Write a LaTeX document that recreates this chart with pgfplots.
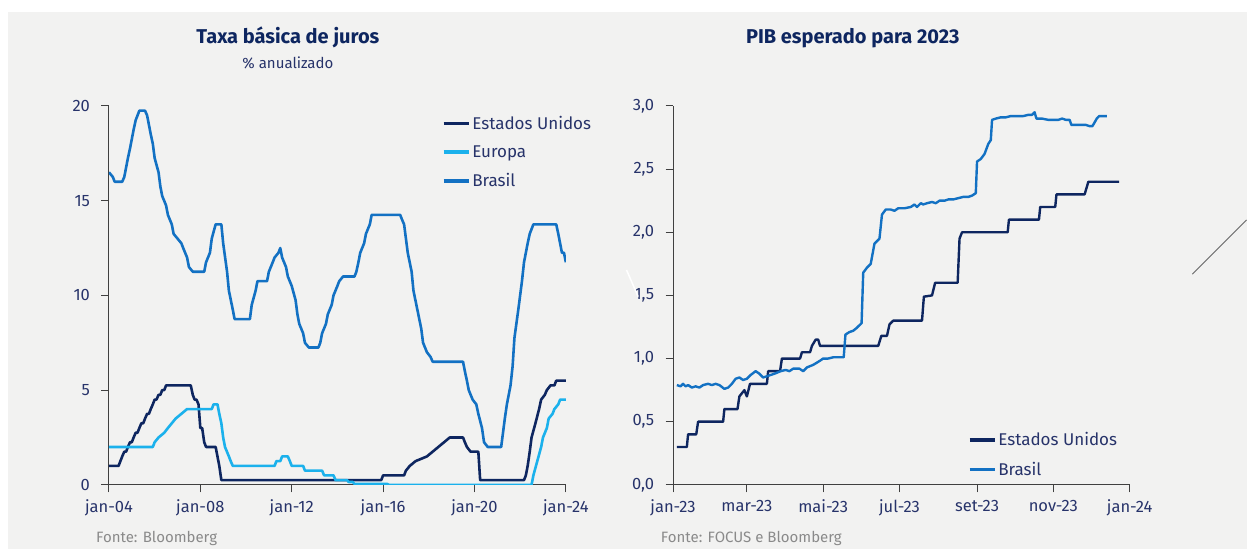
\documentclass[border=0pt]{standalone}
\usepackage{fontspec}
\setmainfont{Fira Sans}
\usepackage{pgfplots}
\pgfplotsset{compat=1.18}

\definecolor{bg}{HTML}{F2F2F1}
\definecolor{usa}{HTML}{0E2660}
\definecolor{eur}{HTML}{1BB1EC}
\definecolor{bra}{HTML}{1371C3}
\definecolor{txt}{HTML}{27336A}
\definecolor{src}{HTML}{8A8A8A}

\pgfplotsset{
  panel/.style={
    scale only axis,
    axis lines=left,
    axis line style={-, black!75, line width=1pt},
    tick align=outside,
    major tick length=7.5pt,
    tick style={black!75, line width=1pt},
    tick label style={font=\fontsize{16.5}{20}\selectfont, text=txt},
    xticklabel style={yshift=-4pt},
    yticklabel style={xshift=-8pt},
    /pgf/number format/assume math mode=true,
    legend cell align=left,
    legend image code/.code={\draw[#1, line width=3.6pt] (0pt,0pt) -- (25pt,0pt);},
    legend style={draw=none, fill=none, font=\fontsize{17}{20}\selectfont, text=txt,
      inner sep=0pt, row sep=10.8pt},
  }
}

\pgfplotstableread{
x y
2004.00 1.00
2004.42 1.00
2004.50 1.25
2004.58 1.50
2004.67 1.75
2004.75 1.75
2004.83 2.00
2004.92 2.25
2005.00 2.25
2005.08 2.50
2005.17 2.75
2005.25 2.75
2005.33 3.00
2005.42 3.25
2005.50 3.25
2005.58 3.50
2005.67 3.75
2005.75 3.75
2005.83 4.00
2005.92 4.25
2006.00 4.50
2006.08 4.50
2006.17 4.75
2006.25 4.75
2006.33 5.00
2006.42 5.00
2006.50 5.25
2007.58 5.25
2007.67 4.75
2007.75 4.50
2007.83 4.50
2007.92 4.25
2008.00 3.00
2008.08 3.00
2008.17 2.25
2008.25 2.00
2008.67 2.00
2008.75 1.50
2008.83 1.00
2008.92 0.25
2015.92 0.25
2016.00 0.50
2016.92 0.50
2017.00 0.75
2017.17 1.00
2017.42 1.25
2017.92 1.50
2018.17 1.75
2018.42 2.00
2018.67 2.25
2018.92 2.50
2019.50 2.50
2019.58 2.25
2019.67 2.00
2019.83 1.75
2020.17 1.75
2020.25 0.25
2022.17 0.25
2022.25 0.50
2022.33 1.00
2022.42 1.75
2022.50 2.50
2022.67 3.25
2022.83 4.00
2022.92 4.50
2023.08 4.75
2023.17 5.00
2023.33 5.25
2023.50 5.25
2023.58 5.50
2024.00 5.50
}\usrate

\pgfplotstableread{
x y
2004.00 2.00
2005.92 2.00
2006.00 2.25
2006.17 2.50
2006.42 2.75
2006.58 3.00
2006.75 3.25
2006.92 3.50
2007.17 3.75
2007.42 4.00
2008.50 4.00
2008.58 4.25
2008.75 4.25
2008.83 3.75
2008.92 3.25
2009.00 2.50
2009.08 2.00
2009.25 1.50
2009.33 1.25
2009.42 1.00
2011.25 1.00
2011.33 1.25
2011.50 1.25
2011.58 1.50
2011.83 1.50
2011.92 1.25
2012.00 1.00
2012.50 1.00
2012.58 0.75
2013.33 0.75
2013.42 0.50
2013.83 0.50
2013.92 0.25
2014.42 0.25
2014.50 0.15
2014.67 0.15
2014.75 0.05
2016.17 0.05
2016.25 0.00
2022.50 0.00
2022.58 0.50
2022.75 1.25
2022.92 2.00
2023.00 2.50
2023.17 3.00
2023.25 3.50
2023.42 3.75
2023.50 4.00
2023.67 4.25
2023.75 4.50
2024.00 4.50
}\eurate

\pgfplotstableread{
x y
2004.00 16.50
2004.17 16.25
2004.25 16.00
2004.58 16.00
2004.67 16.25
2004.75 16.75
2004.83 17.25
2004.92 17.75
2005.00 18.25
2005.08 18.75
2005.17 19.25
2005.25 19.50
2005.33 19.75
2005.58 19.75
2005.67 19.50
2005.75 19.00
2005.83 18.50
2005.92 18.00
2006.00 17.25
2006.17 16.50
2006.25 15.75
2006.33 15.25
2006.50 14.75
2006.58 14.25
2006.75 13.75
2006.83 13.25
2007.00 13.00
2007.17 12.75
2007.25 12.50
2007.42 12.00
2007.50 11.50
2007.67 11.25
2008.17 11.25
2008.25 11.75
2008.42 12.25
2008.50 13.00
2008.67 13.75
2008.92 13.75
2009.00 12.75
2009.17 11.25
2009.25 10.25
2009.42 9.25
2009.50 8.75
2010.17 8.75
2010.25 9.50
2010.42 10.25
2010.50 10.75
2010.92 10.75
2011.00 11.25
2011.17 11.75
2011.25 12.00
2011.42 12.25
2011.50 12.50
2011.58 12.00
2011.75 11.50
2011.83 11.00
2012.00 10.50
2012.17 9.75
2012.25 9.00
2012.33 8.50
2012.50 8.00
2012.58 7.50
2012.75 7.25
2013.17 7.25
2013.25 7.50
2013.33 8.00
2013.50 8.50
2013.58 9.00
2013.75 9.50
2013.83 10.00
2014.00 10.50
2014.08 10.75
2014.25 11.00
2014.75 11.00
2014.83 11.25
2014.92 11.75
2015.00 12.25
2015.17 12.75
2015.25 13.25
2015.42 13.75
2015.50 14.25
2016.75 14.25
2016.83 14.00
2016.92 13.75
2017.00 13.00
2017.08 12.25
2017.25 11.25
2017.33 10.25
2017.50 9.25
2017.67 8.25
2017.75 7.50
2017.92 7.00
2018.08 6.75
2018.17 6.50
2019.50 6.50
2019.58 6.00
2019.67 5.50
2019.75 5.00
2019.92 4.50
2020.08 4.25
2020.17 3.75
2020.33 3.00
2020.42 2.25
2020.58 2.00
2021.17 2.00
2021.25 2.75
2021.33 3.50
2021.42 4.25
2021.58 5.25
2021.67 6.25
2021.75 7.75
2021.92 9.25
2022.08 10.75
2022.17 11.75
2022.33 12.75
2022.42 13.25
2022.58 13.75
2023.58 13.75
2023.67 13.25
2023.75 12.75
2023.83 12.25
2023.92 12.25
2024.00 11.75
}\brrate

\pgfplotstableread{
d y
3 0.30
11 0.30
12 0.40
18.5 0.40
20 0.50
40 0.50
41 0.60
51.5 0.60
53 0.70
57 0.75
59 0.70
61.5 0.80
75 0.80
76 0.90
85.5 0.90
87 1.00
101.5 1.00
103 1.05
109.5 1.05
111 1.10
114 1.15
116 1.15
117.5 1.10
164 1.10
166.5 1.18
171 1.18
173 1.27
176 1.30
199 1.30
200.5 1.49
207 1.50
209.5 1.60
227.5 1.60
229 1.95
231 2.00
267.5 2.00
268.5 2.10
292.5 2.10
293.5 2.20
305.5 2.20
306.5 2.30
329 2.30
332 2.40
356.6 2.40
}\uspib

\pgfplotstableread{
d y
3 0.79
6 0.78
8 0.80
10 0.78
12 0.79
15 0.77
18 0.78
21 0.77
24 0.79
28 0.80
31 0.79
34 0.80
37 0.79
41 0.76
44 0.77
47 0.80
50 0.84
53 0.85
56 0.83
59 0.84
62 0.87
66 0.90
69 0.88
72 0.85
75 0.86
78 0.87
81 0.88
86 0.90
90 0.91
93 0.90
96 0.92
101 0.92
104 0.90
107 0.93
112 0.95
117 0.98
120 1.00
124 1.00
128 1.01
132 1.01
136.4 1.01
137.8 1.19
141 1.21
144 1.22
146.5 1.24
150.7 1.28
152 1.68
155 1.72
158 1.75
161 1.91
164 1.94
165 1.95
167 2.14
170 2.18
174 2.18
177 2.17
180 2.19
185 2.19
190 2.20
193 2.22
195 2.20
198 2.23
200 2.22
203 2.23
207 2.24
210 2.23
213 2.25
217 2.25
220 2.26
224 2.26
228 2.27
232 2.28
236 2.28
239 2.29
242 2.31
243 2.56
246 2.58
249 2.62
252 2.70
254 2.73
255 2.89
258 2.90
262 2.91
266 2.91
270 2.92
275 2.92
280 2.92
284 2.93
287 2.93
289 2.95
290.5 2.90
295 2.90
300 2.89
305 2.89
308 2.89
311 2.90
314 2.89
317 2.89
318.4 2.85
322 2.85
326 2.85
330 2.85
333 2.84
335.2 2.84
337 2.87
338.7 2.90
340.6 2.92
346.7 2.92
}\brpib

\begin{document}
\begin{tikzpicture}[x=1pt,y=1pt]
\fill[white] (0pt,0pt) rectangle (1247pt,549pt);
\fill[bg] (8pt,0pt) rectangle (1247pt,537pt);

% ---------- left panel ----------
\begin{axis}[panel,
  at={(109pt,64pt)}, anchor=south west,
  width=457pt, height=379pt,
  xmin=2004, xmax=2024, ymin=0, ymax=20,
  xtick={2004,2008,2012,2016,2020,2024},
  xticklabels={jan-04,jan-08,jan-12,jan-16,jan-20,jan-24},
  ytick={0,5,10,15,20},
  legend style={at={(0.728,0.979)}, anchor=north west},
]
\addplot[usa, line width=2.6pt, line join=round] table[x=x,y=y]{\usrate};
\addlegendentry{Estados Unidos}
\addplot[eur, line width=2.6pt, line join=round] table[x=x,y=y]{\eurate};
\addlegendentry{Europa}
\addplot[bra, line width=2.6pt, line join=round] table[x=x,y=y]{\brrate};
\addlegendentry{Brasil}
\end{axis}

% ---------- right panel ----------
\begin{axis}[panel,
  at={(673.3pt,64pt)}, anchor=south west,
  width=456.7pt, height=379pt,
  xmin=0, xmax=365, ymin=0, ymax=3,
  xtick={0,59,120,181,243,304,365},
  xticklabels={jan-23,mar-23,mai-23,jul-23,set-23,nov-23,jan-24},
  ytick={0,0.5,1,1.5,2,2.5,3},
  yticklabel style={/pgf/number format/.cd, fixed, fixed zerofill, precision=1, use comma},
  legend style={at={(0.645,0.144)}, anchor=north west},
]
\addplot[usa, line width=2.4pt, line join=round] table[x=d,y=y]{\uspib};
\addlegendentry{Estados Unidos}
\addplot[bra, line width=2.4pt, line join=round] table[x=d,y=y]{\brpib};
\addlegendentry{Brasil}
\end{axis}

% titles
\node[anchor=base, text=usa, font=\fontsize{20}{24}\selectfont\bfseries] at (288pt,505pt) {Taxa básica de juros};
\node[anchor=base, text=txt, font=\fontsize{15}{18}\selectfont] at (288pt,480pt) {\% anualizado};
\node[anchor=base, text=usa, font=\fontsize{20}{24}\selectfont\bfseries] at (853pt,505pt) {PIB esperado para 2023};
% sources
\node[anchor=base west, inner sep=0pt, text=src, font=\fontsize{15}{18}\selectfont] at (96pt,6pt) {Fonte: Bloomberg};
\node[anchor=base west, inner sep=0pt, text=src, font=\fontsize{15}{18}\selectfont] at (661pt,6pt) {Fonte: FOCUS e Bloomberg};
% artefacts
\draw[white, line width=1.5pt] (626.7pt,279pt) -- (638.3pt,252.3pt);
\draw[black!60, line width=0.8pt] (1192.7pt,274.7pt) -- (1247pt,329pt);
\end{tikzpicture}
\end{document}
